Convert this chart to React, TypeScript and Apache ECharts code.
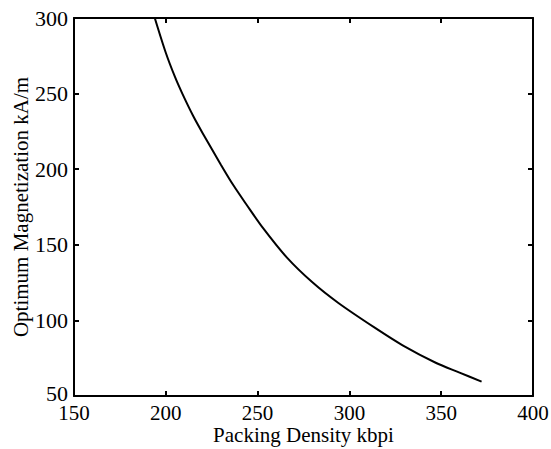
import React, { useEffect, useRef } from "react";
import * as echarts from "echarts";

const packingDensity = [194, 200, 205, 209, 215, 220, 230, 237, 244, 253, 266, 280, 294, 314, 329, 347, 360, 372];
const magnetization = [300, 277, 261, 250, 235, 224, 203, 189, 176.5, 161, 141.5, 125, 111.5, 95, 83.5, 72, 65.5, 59.5];
const xTicks = { min: 150, max: 400, interval: 50 };
const yTicks = { min: 50, max: 300, interval: 50 };

const FONT = "'Liberation Serif', 'DejaVu Serif', serif";

export default function App() {
  const ref = useRef<HTMLDivElement>(null);
  useEffect(() => {
    if (!ref.current) return;
    const chart = echarts.init(ref.current, null, { renderer: "svg" });
    const axisLine = { show: true, lineStyle: { color: "#000", width: 2 } };
    const axisTick = { show: true, inside: true, length: 5, lineStyle: { color: "#000", width: 2 } };
    chart.setOption({
      animation: false,
      backgroundColor: "#fff",
      grid: { left: 74, top: 18, right: 18, bottom: 53, containLabel: false, outerBoundsMode: "none" },
      xAxis: [
        {
          type: "value",
          ...xTicks,
          position: "bottom",
          axisLine,
          axisTick,
          splitLine: { show: false },
          axisLabel: { color: "#000", fontFamily: FONT, fontSize: 21, margin: 8, lineHeight: 18 },
          name: "Packing Density kbpi",
          nameLocation: "middle",
          nameGap: 29,
          nameMoveOverlap: false,
          nameTextStyle: { color: "#000", fontFamily: FONT, fontSize: 21, lineHeight: 20 },
        },
        {
          type: "value",
          ...xTicks,
          position: "top",
          axisLine,
          axisTick,
          splitLine: { show: false },
          axisLabel: { show: false },
        },
      ],
      yAxis: [
        {
          type: "value",
          ...yTicks,
          position: "left",
          axisLine,
          axisTick,
          splitLine: { show: false },
          axisLabel: {
            color: "#000",
            fontFamily: FONT,
            fontSize: 22,
            margin: 6,
            lineHeight: 14,
            formatter: (v: number) => (v === yTicks.min ? `{lo|${v}}` : `${v}`),
            rich: { lo: { color: "#000", fontFamily: FONT, fontSize: 22, lineHeight: 14, padding: [0, 0, 5, 0] } },
          },
          name: "Optimum Magnetization kA/m",
          nameLocation: "middle",
          nameGap: 43,
          nameMoveOverlap: false,
          nameTextStyle: { color: "#000", fontFamily: FONT, fontSize: 21 },
        },
        {
          type: "value",
          ...yTicks,
          position: "right",
          axisLine,
          axisTick,
          splitLine: { show: false },
          axisLabel: { show: false },
        },
      ],
      series: [
        {
          type: "line",
          data: packingDensity.map((x, i) => [x, magnetization[i]]),
          smooth: 0.3,
          showSymbol: false,
          lineStyle: { color: "#000", width: 2 },
          xAxisIndex: 0,
          yAxisIndex: 0,
        },
      ],
    });
    return () => chart.dispose();
  }, []);
  return <div ref={ref} style={{ width: 551, height: 449, position: "absolute", left: 0, top: 0 }} />;
}
